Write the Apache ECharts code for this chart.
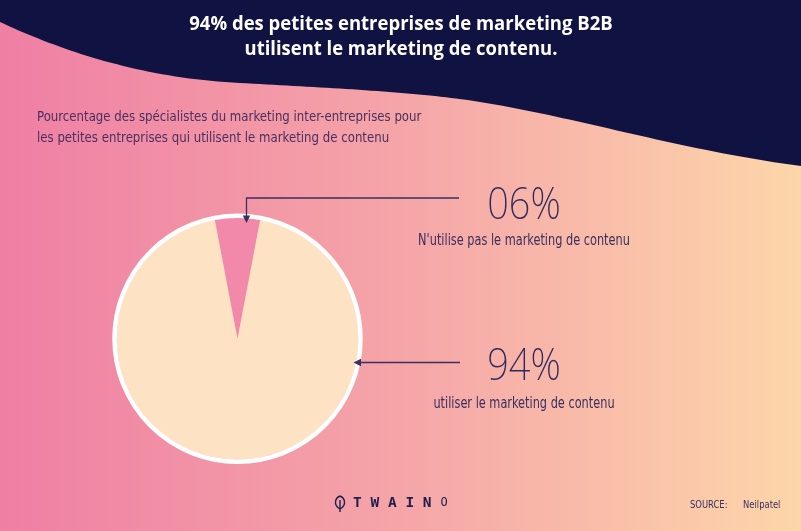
<!DOCTYPE html>
<html><head><meta charset="utf-8">
<script src="https://cdn.jsdelivr.net/npm/echarts@6/dist/echarts.min.js"></script>
<style>html,body{margin:0;padding:0;}#c{width:801px;height:531px;}</style>
</head><body><div id="c"></div>
<script>
const categories = ["N'utilise pas le marketing de contenu", "utiliser le marketing de contenu"];
const values = [6, 94];
const valueLabels = ["06%", "94%"];
const sliceColors = ["#f288aa", "#fde2c4"];
const titleLines = ["94% des petites entreprises de marketing B2B", "utilisent le marketing de contenu."];
const subtitleLines = ["Pourcentage des spécialistes du marketing inter-entreprises pour", "les petites entreprises qui utilisent le marketing de contenu"];
const sourceLabel = "SOURCE:";
const sourceName = "Neilpatel";

const narrow = "'Liberation Sans Narrow','DejaVu Sans Condensed',sans-serif";
const chart = echarts.init(document.getElementById('c'), null, {renderer: 'canvas'});
const cx = 237.5, cy = 338.7, R = 121;
const total = values.reduce((a, b) => a + b, 0);
const startAngle = 90 + values[0] / total * 360 / 2;
const ink = '#3a2f5e';

function bez(p0, p1, p2, p3, n, out) {
  for (let i = 1; i <= n; i++) {
    const t = i / n, u = 1 - t;
    out.push([u*u*u*p0[0] + 3*u*u*t*p1[0] + 3*u*t*t*p2[0] + t*t*t*p3[0],
              u*u*u*p0[1] + 3*u*u*t*p1[1] + 3*u*t*t*p2[1] + t*t*t*p3[1]]);
  }
}
const wave = [[801, 0], [0, 0], [0, 22]];
bez([0, 22], [60, 50], [140, 78], [240, 83], 40, wave);
bez([240, 83], [330, 88], [420, 92], [480, 102], 40, wave);
bez([480, 102], [580, 118], [680, 150], [801, 166], 40, wave);

chart.setOption({
  animation: false,
  backgroundColor: new echarts.graphic.LinearGradient(0, 0, 1, 0,
    [{offset: 0, color: '#ef7fa4'}, {offset: 0.5, color: '#f5a5a8'}, {offset: 1, color: '#fdd6aa'}]),
  series: [{
    type: 'pie', center: [cx, cy], radius: [0, R], startAngle: startAngle, clockwise: true,
    silent: true, label: {show: false}, labelLine: {show: false},
    data: categories.map((n, i) => ({name: n, value: values[i], itemStyle: {color: sliceColors[i]}}))
  }],
  graphic: [
    {type: 'polygon', z: 1, shape: {points: wave}, style: {fill: '#101241'}},
    {type: 'text', z: 5, x: 401, y: 25, scaleX: 0.975, style: {text: titleLines[0], fill: '#fff', font: "bold 19px 'Open Sans', sans-serif", align: 'center', verticalAlign: 'middle'}},
    {type: 'text', z: 5, x: 401, y: 50, scaleX: 0.97, style: {text: titleLines[1], fill: '#fff', font: "bold 19px 'Open Sans', sans-serif", align: 'center', verticalAlign: 'middle'}},
    {type: 'text', z: 5, x: 37, y: 117, scaleX: 0.935, style: {text: subtitleLines[0], fill: '#4a2f5e', font: "14px " + narrow, verticalAlign: 'middle'}},
    {type: 'text', z: 5, x: 37, y: 138, scaleX: 0.935, style: {text: subtitleLines[1], fill: '#4a2f5e', font: "14px " + narrow, verticalAlign: 'middle'}},
    {type: 'circle', z: 6, shape: {cx: cx, cy: cy, r: R + 2}, style: {fill: 'none', stroke: '#ffffff', lineWidth: 4.5}},
    {type: 'polyline', z: 7, shape: {points: [[459, 198], [246.5, 198], [246.5, 218]]}, style: {stroke: ink, lineWidth: 1.3, fill: 'none'}},
    {type: 'polygon', z: 7, shape: {points: [[246.5, 223], [242.8, 215.5], [250.2, 215.5]]}, style: {fill: ink}},
    {type: 'line', z: 7, shape: {x1: 460, y1: 362.5, x2: 358, y2: 362.5}, style: {stroke: ink, lineWidth: 1.3}},
    {type: 'polygon', z: 7, shape: {points: [[353.5, 362.5], [361, 358.8], [361, 366.2]]}, style: {fill: ink}},
    {type: 'text', z: 5, x: 524, y: 206, scaleX: 0.86, style: {text: valueLabels[0], fill: '#2e2a5c', font: "200 44px 'Noto Sans', sans-serif", align: 'center', verticalAlign: 'middle'}},
    {type: 'text', z: 5, x: 524, y: 241.5, scaleX: 0.84, style: {text: categories[0], fill: ink, font: "15px " + narrow, align: 'center', verticalAlign: 'middle'}},
    {type: 'text', z: 5, x: 524, y: 367.5, scaleX: 0.86, style: {text: valueLabels[1], fill: '#2e2a5c', font: "200 44px 'Noto Sans', sans-serif", align: 'center', verticalAlign: 'middle'}},
    {type: 'text', z: 5, x: 524, y: 404, scaleX: 0.84, style: {text: categories[1], fill: ink, font: "15px " + narrow, align: 'center', verticalAlign: 'middle'}},
    {type: 'bezierCurve', z: 5, shape: {x1: 340, y1: 509, x2: 340, y2: 496, cpx1: 333, cpy1: 505, cpx2: 335, cpy2: 498}, style: {stroke: '#1f1f4f', lineWidth: 1.4, fill: 'none'}},
    {type: 'bezierCurve', z: 5, shape: {x1: 340, y1: 509, x2: 340, y2: 496, cpx1: 347, cpy1: 505, cpx2: 345, cpy2: 498}, style: {stroke: '#1f1f4f', lineWidth: 1.4, fill: 'none'}},
    {type: 'line', z: 5, shape: {x1: 340, y1: 500, x2: 340, y2: 512}, style: {stroke: '#1f1f4f', lineWidth: 1.4}},
    {type: 'text', z: 5, x: 353, y: 503, style: {text: 'T W A I N', fill: '#1f1f4f', font: "bold 14.5px 'DejaVu Sans Mono', monospace", verticalAlign: 'middle'}},
    {type: 'text', z: 5, x: 440.5, y: 503, style: {text: 'O', fill: '#1f1f4f', font: "12px 'DejaVu Sans Mono', monospace", verticalAlign: 'middle'}},
    {type: 'text', z: 5, x: 690, y: 505, scaleX: 0.85, style: {text: sourceLabel, fill: ink, font: "11px " + narrow, verticalAlign: 'middle'}},
    {type: 'text', z: 5, x: 743, y: 505, scaleX: 0.85, style: {text: sourceName, fill: ink, font: "11px " + narrow, verticalAlign: 'middle'}}
  ]
});
</script></body></html>
